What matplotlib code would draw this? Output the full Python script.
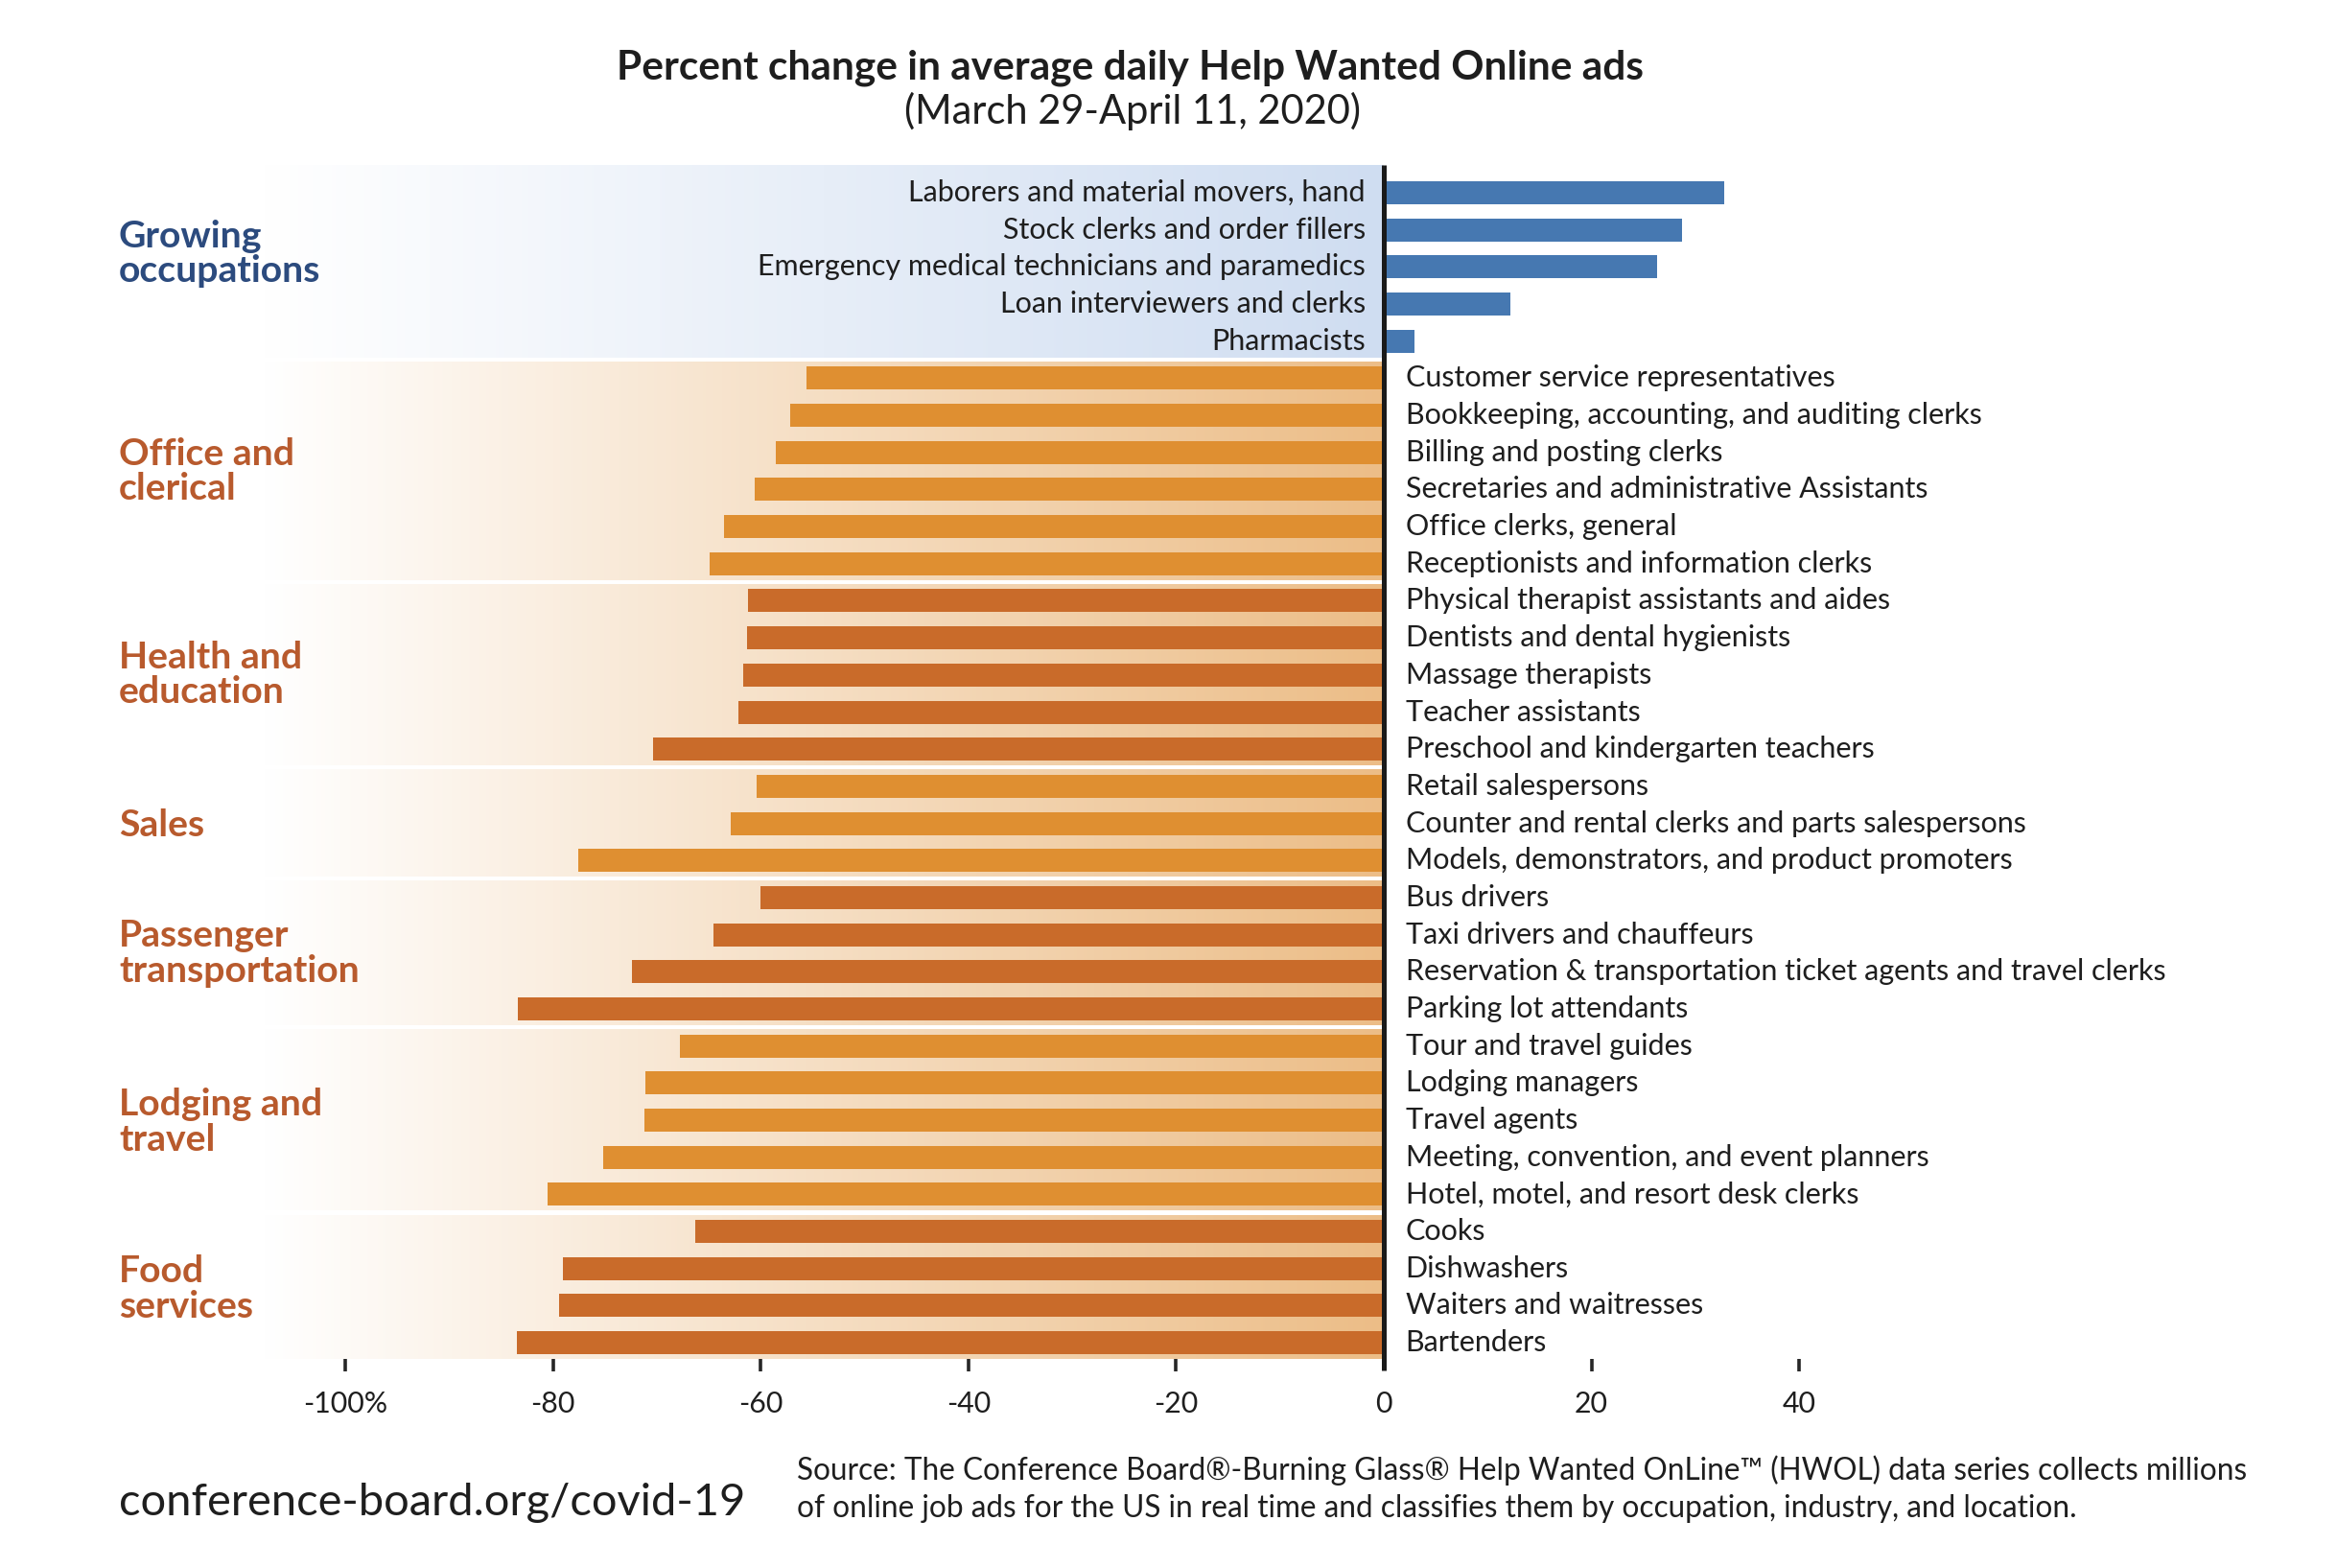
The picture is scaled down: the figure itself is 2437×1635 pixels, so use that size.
import matplotlib
matplotlib.use("Agg")
import matplotlib.pyplot as plt
import numpy as np
from matplotlib.colors import LinearSegmentedColormap

plt.rcParams['font.family'] = ['Lato', 'DejaVu Sans']

# ---------------- data ----------------
growing_labels = ["Laborers and material movers, hand", "Stock clerks and order fillers",
                  "Emergency medical technicians and paramedics", "Loan interviewers and clerks",
                  "Pharmacists"]
growing_values = [32.8, 28.7, 26.3, 12.2, 3.0]

office_labels = ["Customer service representatives", "Bookkeeping, accounting, and auditing clerks",
                 "Billing and posting clerks", "Secretaries and administrative Assistants",
                 "Office clerks, general", "Receptionists and information clerks"]
office_values = [-55.6, -57.2, -58.5, -60.6, -63.5, -64.9]

health_labels = ["Physical therapist assistants and aides", "Dentists and dental hygienists",
                 "Massage therapists", "Teacher assistants", "Preschool and kindergarten teachers"]
health_values = [-61.2, -61.3, -61.7, -62.1, -70.4]

sales_labels = ["Retail salespersons", "Counter and rental clerks and parts salespersons",
                "Models, demonstrators, and product promoters"]
sales_values = [-60.4, -62.9, -77.6]

passenger_labels = ["Bus drivers", "Taxi drivers and chauffeurs",
                    "Reservation & transportation ticket agents and travel clerks",
                    "Parking lot attendants"]
passenger_values = [-60.0, -64.5, -72.4, -83.4]

lodging_labels = ["Tour and travel guides", "Lodging managers", "Travel agents",
                  "Meeting, convention, and event planners", "Hotel, motel, and resort desk clerks"]
lodging_values = [-67.8, -71.1, -71.2, -75.2, -80.5]

food_labels = ["Cooks", "Dishwashers", "Waiters and waitresses", "Bartenders"]
food_values = [-66.3, -79.0, -79.4, -83.5]

group_names = ["Growing\noccupations", "Office and\nclerical", "Health and\neducation", "Sales",
               "Passenger\ntransportation", "Lodging and\ntravel", "Food\nservices"]

tick_values = [-100, -80, -60, -40, -20, 0, 20, 40]
tick_labels = ["-100%", "-80", "-60", "-40", "-20", "0", "20", "40"]

title = "Percent change in average daily Help Wanted Online ads"
subtitle = "(March 29-April 11, 2020)"
footer_url = "conference-board.org/covid-19"
source_text = ("Source: The Conference Board\u00ae-Burning Glass\u00ae Help Wanted OnLine\u2122 (HWOL) data series collects millions\n"
               "of online job ads for the US in real time and classifies them by occupation, industry, and location.")

# ---------------- styling ----------------
BLUE = "#4678B1"
ORANGE_L = "#DF8F31"
ORANGE_D = "#C96B2A"
LBL_BLUE = "#2C4B7E"
LBL_ORANGE = "#B85A2D"
TXT = "#1e1e1e"

groups = [
    (growing_labels, growing_values, BLUE),
    (office_labels, office_values, ORANGE_L),
    (health_labels, health_values, ORANGE_D),
    (sales_labels, sales_values, ORANGE_L),
    (passenger_labels, passenger_values, ORANGE_D),
    (lodging_labels, lodging_values, ORANGE_L),
    (food_labels, food_values, ORANGE_D),
]

W, H = 2437, 1635
fig = plt.figure(figsize=(W / 100, H / 100), dpi=100)

# axes geometry in pixels
px_left, px_right = 275, 2300
px_top, px_bot = 172, 1416.7
x0_px, unit_px = 1443, 10.83
row0_px, row_px = 201, 38.68

ax = fig.add_axes([px_left / W, 1 - px_bot / H, (px_right - px_left) / W, (px_bot - px_top) / H])
xmin = (px_left - x0_px) / unit_px
xmax = (px_right - x0_px) / unit_px
ytop = (px_top - row0_px) / row_px
ybot = (px_bot - row0_px) / row_px
ax.set_xlim(xmin, xmax)
ax.set_ylim(ybot, ytop)
for s in ax.spines.values():
    s.set_visible(False)
ax.set_yticks([])

# background gradient bands
blue_cmap = LinearSegmentedColormap.from_list("b", ["#FFFFFF", "#CFDDF1"])
orng_cmap = LinearSegmentedColormap.from_list("o", ["#FFFFFF", "#ECBD87"])
grad = np.linspace(0, 1, 512).reshape(1, -1)

gap = 0.06
start = 0
for i, (labs, vals, col) in enumerate(groups):
    n = len(labs)
    top = ytop if i == 0 else start - 0.5 + gap
    bot = start + n - 0.5 - gap if i < len(groups) - 1 else ybot
    cmap = blue_cmap if i == 0 else orng_cmap
    ax.imshow(grad, cmap=cmap, extent=[xmin, 0, bot, top], aspect="auto",
              interpolation="bicubic", zorder=0)
    start += n
ax.set_xlim(xmin, xmax)
ax.set_ylim(ybot, ytop)

# bars and labels
LBL_SIZE = 22
start = 0
for i, (labs, vals, col) in enumerate(groups):
    ys = np.arange(start, start + len(labs))
    ax.barh(ys, vals, height=0.62, color=col, zorder=2, linewidth=0)
    for y, lab, v in zip(ys, labs, vals):
        if v >= 0:
            ax.text(-1.75, y, lab, ha="right", va="center", fontsize=LBL_SIZE, color=TXT, zorder=3)
        else:
            ax.text(2.1, y, lab, ha="left", va="center", fontsize=LBL_SIZE, color=TXT, zorder=3)
    start += len(labs)

# group labels
group_y = [1.65, 7.5, 13.0, 17.05, 20.5, 25.05, 29.55]
label_x = (124 - x0_px) / unit_px
for i, (name, gy) in enumerate(zip(group_names, group_y)):
    ax.text(label_x, gy, name, ha="left", va="center", fontsize=28.2, fontweight="bold",
            color=LBL_BLUE if i == 0 else LBL_ORANGE, linespacing=1.04, clip_on=False, zorder=3)

# zero axis line
axis_bot = (1429 - row0_px) / row_px
ax.plot([0, 0], [ytop, axis_bot], color="#1a1a1a", lw=3.6, clip_on=False, zorder=4,
        solid_capstyle="butt")

# x ticks
ax.set_xticks(tick_values)
ax.set_xticklabels(tick_labels)
ax.tick_params(axis="x", direction="out", length=9, width=2.6, color="#262626",
               labelsize=21.8, labelcolor=TXT, pad=15)
for t, v in zip(ax.xaxis.get_major_ticks(), tick_values):
    if v == 0:
        t.tick1line.set_visible(False)

# titles and footer
fig.text(0.4835, 1 - 71 / H, title, ha="center", va="center", fontsize=30.5, fontweight="bold", color=TXT)
fig.text(0.4845, 1 - 116 / H, subtitle, ha="center", va="center", fontsize=30, color=TXT)
fig.text(124 / W, 1 - 1567 / H, footer_url, ha="left", va="center", fontsize=33.8, color=TXT)
fig.text(831 / W, 1 - 1553 / H, source_text, ha="left", va="center", fontsize=22.7, color=TXT,
         linespacing=1.38)

fig.savefig("out.png", dpi=100, facecolor="white")
